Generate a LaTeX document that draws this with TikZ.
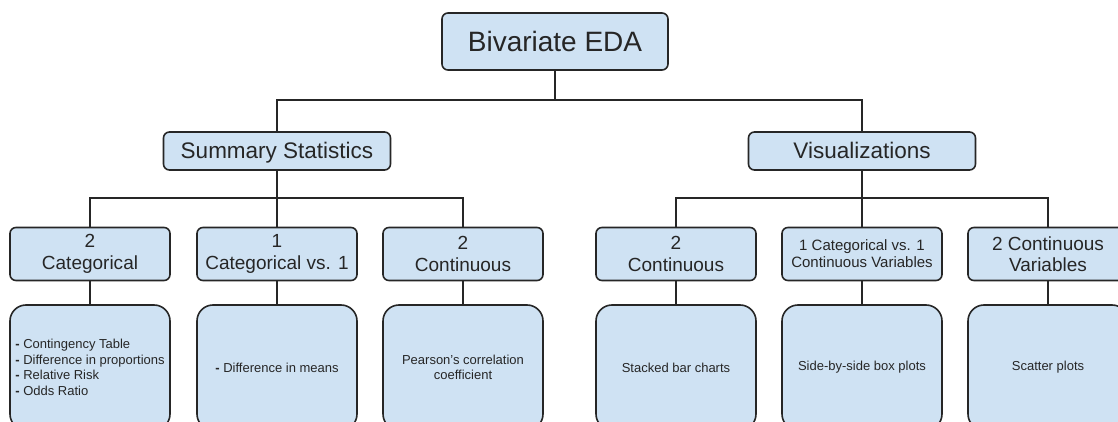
\documentclass[tikz,border=0pt]{standalone}
\usepackage{fontspec}
\setmainfont{Liberation Sans}
\usetikzlibrary{backgrounds}
\definecolor{boxblue}{HTML}{CFE2F3}
\definecolor{edge}{HTML}{262626}
\tikzset{
  box/.style={draw=edge, line width=1.6pt, fill=boxblue, rounded corners=6pt,
    inner sep=0pt, align=center, text=edge},
  topbox/.style={box, minimum width=226pt, minimum height=57pt, text height=20pt, text depth=0pt,
    font=\fontsize{28}{30}\selectfont},
  midbox/.style={box, minimum width=227pt, minimum height=38pt, text height=16pt, text depth=0pt,
    font=\fontsize{22.5}{26}\selectfont},
  catbox/.style={box, minimum width=160pt, minimum height=53pt, font=\fontsize{19}{21.5}\selectfont},
  leafbox/.style={box, rounded corners=16pt, minimum width=160pt, minimum height=125pt,
    font=\fontsize{13}{15.7}\selectfont},
  link/.style={draw=edge, line width=1.6pt}
}
\begin{document}
\begin{tikzpicture}[x=1pt,y=-1pt]
  \useasboundingbox (0,0) rectangle (1118,422);
  \clip (0,0) rectangle (1118,422);
  \node (root) at (555,41.5) [topbox] {Bivariate EDA};
  \node (summ) at (277,151) [midbox] {Summary Statistics};
  \node (vis) at (862,151) [midbox] {Visualizations};
  \node (cat) at (90,254) [catbox] {2\\Categorical};
  \node (mix) at (277,254) [catbox] {1\\Categorical vs. 1};
  \node (con) at (463,254) [catbox] {2\\Continuous};
  \node (vcon) at (676,254) [catbox] {2\\Continuous};
  \node (vmix) at (862,254) [catbox, font=\fontsize{15}{17}\selectfont] {1 Categorical vs. 1\\Continuous Variables};
  \node (vvar) at (1048,254) [catbox] {2 Continuous\\Variables};
  \node (catl) at (90,367.5) [leafbox, align=left] {\textbf{-} Contingency Table\\\textbf{-} Difference in proportions\\\textbf{-} Relative Risk\\\textbf{-} Odds Ratio};
  \node (mixl) at (277,367.5) [leafbox] {\textbf{-} Difference in means};
  \node (conl) at (463,367.5) [leafbox] {Pearson's correlation\\coefficient};
  \node (vconl) at (676,367.5) [leafbox] {Stacked bar charts};
  \node (vmixl) at (862,367.5) [leafbox] {Side-by-side box plots};
  \node (vvarl) at (1048,367.5) [leafbox] {Scatter plots};
  \coordinate (j0) at (555,100);
  \coordinate (j1) at (277,198);
  \coordinate (j2) at (862,198);
  \begin{scope}[on background layer]
  \draw[link] (root.south) -- (j0); \draw[link] (j0) -| (summ.north); \draw[link]
  (j0) -| (vis.north); \draw[link] (summ.south) -- (j1); \draw[link] (j1) -| (cat.north);
  \draw[link] (j1) -- (mix.north); \draw[link] (j1) -| (con.north); \draw[link]
  (vis.south) -- (j2); \draw[link] (j2) -| (vcon.north); \draw[link] (j2) -- (vmix.north);
  \draw[link] (j2) -| (vvar.north); \draw[link] (cat.south) -- (catl.north); \draw[link]
  (mix.south) -- (mixl.north); \draw[link] (con.south) -- (conl.north); \draw[link] (vcon.south) --
  (vconl.north); \draw[link] (vmix.south) -- (vmixl.north); \draw[link] (vvar.south) -- (vvarl.north);
  \end{scope}
\end{tikzpicture}
\end{document}
